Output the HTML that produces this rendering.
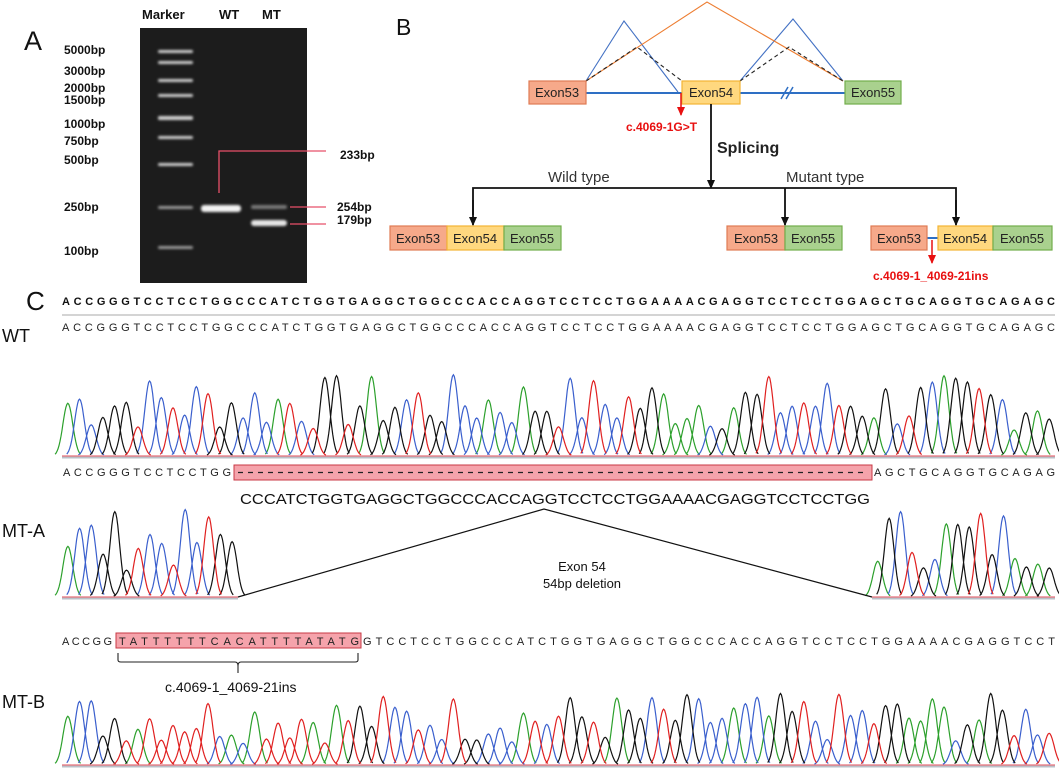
<!DOCTYPE html>
<html><head><meta charset="utf-8">
<style>
html,body{margin:0;padding:0;background:#fff;}
svg{display:block;}
text{font-family:"Liberation Sans",sans-serif;}
.ex{font-size:13px;fill:#222;text-anchor:middle;}
.bp{font-size:12px;font-weight:bold;fill:#111;}
.seq{font-size:11px;fill:#222;}
</style></head>
<body>
<svg id="s" width="1059" height="770" viewBox="0 0 1059 770" xmlns="http://www.w3.org/2000/svg">
<defs>
<marker id="ab" markerWidth="9" markerHeight="9" refX="8" refY="4" orient="auto" markerUnits="userSpaceOnUse" viewBox="0 0 9 8"><path d="M0,0 L9,4 L0,8z" fill="#111"/></marker>
<marker id="ar" markerWidth="9" markerHeight="9" refX="8" refY="4" orient="auto" markerUnits="userSpaceOnUse" viewBox="0 0 9 8"><path d="M0,0 L9,4 L0,8z" fill="#e81010"/></marker>
<filter id="bl"><feGaussianBlur stdDeviation="1.3"/></filter>
</defs>

<!-- Panel A -->
<text x="24" y="50" font-size="27" fill="#111">A</text>
<text x="142" y="19" font-size="13" font-weight="bold" fill="#111">Marker</text>
<text x="219" y="19" font-size="13" font-weight="bold" fill="#111">WT</text>
<text x="262" y="19" font-size="13" font-weight="bold" fill="#111">MT</text>
<rect x="140" y="28" width="167" height="255" fill="#1c1c1c"/>
<g fill="#cfcfcf" filter="url(#bl)">
<rect x="158" y="50" width="35" height="3" rx="1.5"/>
<rect x="158" y="61" width="35" height="3" rx="1.5"/>
<rect x="158" y="79" width="35" height="3" rx="1.5"/>
<rect x="158" y="94" width="35" height="3" rx="1.5"/>
<rect x="158" y="116" width="35" height="4" rx="1.5"/>
<rect x="158" y="136" width="35" height="3" rx="1.5"/>
<rect x="158" y="163" width="35" height="3" rx="1.5"/>
<rect x="158" y="206" width="35" height="3" rx="1.5" fill="#999"/>
<rect x="158" y="246" width="35" height="3" rx="1.5" fill="#999"/>
<rect x="201" y="205" width="40" height="7" rx="3" fill="#f2f2f2"/>
<rect x="251" y="205" width="36" height="4" rx="2" fill="#777"/>
<rect x="251" y="220" width="36" height="6" rx="3" fill="#e6e6e6"/>
</g>
<g class="bp">
<text x="64" y="54">5000bp</text><text x="64" y="75">3000bp</text><text x="64" y="92">2000bp</text>
<text x="64" y="104">1500bp</text><text x="64" y="128">1000bp</text><text x="64" y="145">750bp</text>
<text x="64" y="164">500bp</text><text x="64" y="211">250bp</text><text x="64" y="255">100bp</text>
<text x="340" y="159">233bp</text><text x="337" y="211">254bp</text><text x="337" y="224">179bp</text>
</g>
<g stroke="#e8506a" stroke-width="1.3" fill="none">
<path d="M219,193 V151 H326"/><path d="M290,207 H326"/><path d="M290,224 H326"/>
</g>

<!-- Panel B -->
<text x="396" y="35" font-size="23" fill="#111">B</text>
<g fill="none" stroke-width="1.1">
<path d="M586,81 L624,21 L678,92" stroke="#4472c4"/>
<path d="M740,81 L793,19 L843,81" stroke="#4472c4"/>
<path d="M586,81 L707,2 L843,81" stroke="#ed7d31"/>
<path d="M586,81 L637,47 L682,81" stroke="#222" stroke-dasharray="4,3"/>
<path d="M740,81 L789,47 L843,81" stroke="#222" stroke-dasharray="4,3"/>
</g>
<g stroke="#2e6fc4" stroke-width="2">
<line x1="586" y1="93" x2="682" y2="93"/><line x1="740" y1="93" x2="845" y2="93"/>
<line x1="781" y1="99" x2="788" y2="87" stroke-width="1.5"/><line x1="786" y1="99" x2="793" y2="87" stroke-width="1.5"/>
<line x1="927" y1="238" x2="938" y2="238"/>
</g>
<g stroke-width="1.2">
<rect x="529" y="81" width="57" height="23" fill="#f6a98a" stroke="#e07b54"/>
<rect x="682" y="81" width="58" height="23" fill="#ffd87f" stroke="#f2b534"/>
<rect x="845" y="81" width="56" height="23" fill="#a9d18e" stroke="#72ad4b"/>
<rect x="390" y="226" width="57" height="24" fill="#f6a98a" stroke="#e07b54"/>
<rect x="447" y="226" width="57" height="24" fill="#ffd87f" stroke="#f2b534"/>
<rect x="504" y="226" width="57" height="24" fill="#a9d18e" stroke="#72ad4b"/>
<rect x="727" y="226" width="58" height="24" fill="#f6a98a" stroke="#e07b54"/>
<rect x="785" y="226" width="57" height="24" fill="#a9d18e" stroke="#72ad4b"/>
<rect x="871" y="226" width="56" height="24" fill="#f6a98a" stroke="#e07b54"/>
<rect x="938" y="226" width="55" height="24" fill="#ffd87f" stroke="#f2b534"/>
<rect x="993" y="226" width="59" height="24" fill="#a9d18e" stroke="#72ad4b"/>
</g>
<g class="ex">
<text x="557" y="97">Exon53</text><text x="711" y="97">Exon54</text><text x="873" y="97">Exon55</text>
<text x="418" y="243">Exon53</text><text x="475" y="243">Exon54</text><text x="532" y="243">Exon55</text>
<text x="756" y="243">Exon53</text><text x="813" y="243">Exon55</text>
<text x="899" y="243">Exon53</text><text x="965" y="243">Exon54</text><text x="1022" y="243">Exon55</text>
</g>
<line x1="681" y1="93" x2="681" y2="115" stroke="#e81010" stroke-width="1.5" marker-end="url(#ar)"/>
<text x="626" y="131" font-size="12" font-weight="bold" fill="#e81010">c.4069-1G&gt;T</text>
<line x1="932" y1="240" x2="932" y2="263" stroke="#e81010" stroke-width="1.5" marker-end="url(#ar)"/>
<text x="873" y="280" font-size="12" font-weight="bold" fill="#e81010">c.4069-1_4069-21ins</text>
<g stroke="#111" stroke-width="1.8" fill="none">
<line x1="711" y1="104" x2="711" y2="188" marker-end="url(#ab)"/>
<path d="M473,215 V188 H956 V215"/>
<line x1="473" y1="200" x2="473" y2="225" marker-end="url(#ab)"/>
<line x1="785" y1="188" x2="785" y2="225" marker-end="url(#ab)"/>
<line x1="956" y1="200" x2="956" y2="225" marker-end="url(#ab)"/>
</g>
<text x="717" y="153" font-size="16" font-weight="bold" fill="#222">Splicing</text>
<text x="548" y="182" font-size="15" fill="#333">Wild type</text>
<text x="786" y="182" font-size="15" fill="#333">Mutant type</text>

<!-- Panel C -->
<text x="26" y="310" font-size="26" fill="#111">C</text>
<text x="62" y="305" font-size="11" font-weight="bold" fill="#111" textLength="993" lengthAdjust="spacing">ACCGGGTCCTCCTGGCCCATCTGGTGAGGCTGGCCCACCAGGTCCTCCTGGAAAACGAGGTCCTCCTGGAGCTGCAGGTGCAGAGC</text>
<line x1="62" y1="315" x2="1055" y2="315" stroke="#aaa" stroke-width="1"/>
<text x="62" y="331" class="seq" textLength="993" lengthAdjust="spacing">ACCGGGTCCTCCTGGCCCATCTGGTGAGGCTGGCCCACCAGGTCCTCCTGGAAAACGAGGTCCTCCTGGAGCTGCAGGTGCAGAGC</text>
<text x="2" y="342" font-size="18" fill="#111">WT</text>
<text x="2" y="537" font-size="18" fill="#111">MT-A</text>
<text x="2" y="708" font-size="18" fill="#111">MT-B</text>

<g id="chrom"></g>

<text x="63" y="476" class="seq" textLength="168" lengthAdjust="spacing">ACCGGGTCCTCCTGG</text>
<rect x="234" y="465" width="638" height="15" fill="#f5a3ab" stroke="#c83a45" stroke-width="1"/>
<line x1="238" y1="472.5" x2="868" y2="472.5" stroke="#222" stroke-width="1.2" stroke-dasharray="5,5"/>
<text x="874" y="476" class="seq" textLength="181" lengthAdjust="spacing">AGCTGCAGGTGCAGAG</text>
<text x="240" y="504" font-size="15" fill="#111" textLength="630" lengthAdjust="spacingAndGlyphs">CCCATCTGGTGAGGCTGGCCCACCAGGTCCTCCTGGAAAACGAGGTCCTCCTGG</text>
<path d="M238,597 L544,509 L872,597" fill="none" stroke="#111" stroke-width="1.2"/>
<text x="582" y="571" font-size="13" fill="#111" text-anchor="middle">Exon 54</text>
<text x="582" y="588" font-size="13" fill="#111" text-anchor="middle">54bp deletion</text>

<text x="62" y="645" class="seq" textLength="50" lengthAdjust="spacing">ACCGG</text>
<rect x="116" y="633" width="245" height="15" fill="#f5a3ab" stroke="#c83a45" stroke-width="1"/>
<text x="119" y="645" class="seq" textLength="240" lengthAdjust="spacing">TATTTTTTCACATTTTATATG</text>
<text x="363" y="645" class="seq" textLength="692" lengthAdjust="spacing">GTCCTCCTGGCCCATCTGGTGAGGCTGGCCCACCAGGTCCTCCTGGAAAACGAGGTCCT</text>
<path d="M118,653 V660 Q118,662 121,662 H235 Q238,662 238,666 V673 M238,666 Q238,662 241,662 H355 Q358,662 358,660 V653" fill="none" stroke="#222" stroke-width="1.1"/>
<text x="165" y="692" font-size="14" fill="#111">c.4069-1_4069-21ins</text>
</svg>
<script>
(function(){
var col={A:'#2ca02c',C:'#3a5fcd',G:'#111111',T:'#e02020'};
var seed=7;function rnd(){seed=(seed*9301+49297)%233280;return seed/233280;}
var g=document.getElementById('chrom');var ns='http://www.w3.org/2000/svg';
function chrom(seq,x0,x1,base,maxH){
  var step=(x1-x0)/seq.length,sig=step*0.42;
  var paths={A:'',C:'',G:'',T:''};
  for(var i=0;i<seq.length;i++){
    var b=seq[i],c=x0+(i+0.5)*step,h=maxH*(0.3+0.7*rnd());
    var d='';
    for(var k=-2.6;k<=2.601;k+=0.2){
      var x=c+k*sig,y=base-h*Math.exp(-k*k/2);
      d+=(d?'L':'M')+x.toFixed(1)+','+y.toFixed(1);
    }
    paths[b]+=d;
  }
  var l=document.createElementNS(ns,'line');l.setAttribute('x1',x0);l.setAttribute('x2',x1);l.setAttribute('y1',base+1.5);l.setAttribute('y2',base+1.5);l.setAttribute('stroke','#b9c0c8');l.setAttribute('stroke-width','2');g.appendChild(l);
  var l2=document.createElementNS(ns,'line');l2.setAttribute('x1',x0);l2.setAttribute('x2',x1);l2.setAttribute('y1',base);l2.setAttribute('y2',base);l2.setAttribute('stroke','#e8707a');l2.setAttribute('stroke-width','1.2');g.appendChild(l2);
  for(var k2 in paths){var p=document.createElementNS(ns,'path');p.setAttribute('d',paths[k2]);p.setAttribute('fill','none');p.setAttribute('stroke',col[k2]);p.setAttribute('stroke-width','1.2');g.appendChild(p);}
}
var wt='ACCGGGTCCTCCTGGCCCATCTGGTGAGGCTGGCCCACCAGGTCCTCCTGGAAAACGAGGTCCTCCTGGAGCTGCAGGTGCAGAG';
chrom(wt,62,1055,456,82);
chrom('ACCGGGTCCTCCTGG',62,238,597,88);
chrom('AGCTGCAGGTGCAGAG',872,1055,597,92);
chrom('ACCGGTATTTTTTCACATTTTATATGGTCCTCCTGGCCCATCTGGTGAGGCTGGCCCACCAGGTCCTCCTGGAAAACGAGGTCCT',62,1055,765,72);
})();
</script>
</body></html>
